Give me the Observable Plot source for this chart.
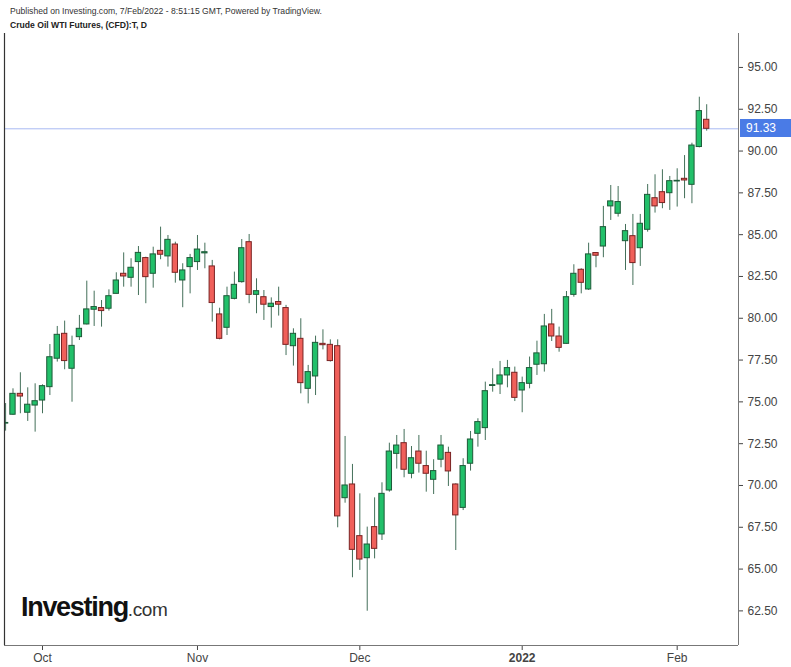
<!DOCTYPE html>
<html><head><meta charset="utf-8">
<script src="https://cdn.jsdelivr.net/npm/d3@7"></script>
<script src="https://cdn.jsdelivr.net/npm/@observablehq/plot@0.6"></script>
<style>
body{margin:0;background:#fff;font-family:"Liberation Sans",Arial,sans-serif;}
#wrap{position:relative;width:791px;height:667px;overflow:hidden;background:#fff}
.pub{position:absolute;left:10px;top:6px;font-size:8.6px;color:#333;white-space:nowrap}
.ttl{position:absolute;left:10px;top:20px;font-size:8.6px;font-weight:bold;color:#222;white-space:nowrap}
#chart{position:absolute;left:0;top:33px}
.logo{position:absolute;left:21px;top:592px;white-space:nowrap;color:#111}
.logo .a{font-size:27px;font-weight:bold;letter-spacing:-1.3px}
.logo .b{font-size:19px;color:#333;letter-spacing:-0.4px}
.price{position:absolute;left:740px;width:51px;height:18px;background:#4a7be6;color:#fff;font-size:12px;line-height:18px;padding-left:6px;box-sizing:border-box}
</style></head>
<body>
<div id="wrap">
  <div class="pub">Published on Investing.com, 7/Feb/2022 - 8:51:15 GMT, Powered by TradingView.</div>
  <div class="ttl">Crude Oil WTI Futures, (CFD):T, D</div>
  <div id="chart"></div>
  <div class="logo"><span class="a">Investing</span><span class="b">.com</span></div>
</div>
<script>
const dates = ["2021-09-24","2021-09-27","2021-09-28","2021-09-29","2021-09-30",
"2021-10-01","2021-10-04","2021-10-05","2021-10-06","2021-10-07","2021-10-08","2021-10-11","2021-10-12","2021-10-13","2021-10-14","2021-10-15","2021-10-18","2021-10-19","2021-10-20","2021-10-21","2021-10-22","2021-10-25","2021-10-26","2021-10-27","2021-10-28","2021-10-29",
"2021-11-01","2021-11-02","2021-11-03","2021-11-04","2021-11-05","2021-11-08","2021-11-09","2021-11-10","2021-11-11","2021-11-12","2021-11-15","2021-11-16","2021-11-17","2021-11-18","2021-11-19","2021-11-22","2021-11-23","2021-11-24","2021-11-25","2021-11-26","2021-11-29","2021-11-30",
"2021-12-01","2021-12-02","2021-12-03","2021-12-06","2021-12-07","2021-12-08","2021-12-09","2021-12-10","2021-12-13","2021-12-14","2021-12-15","2021-12-16","2021-12-17","2021-12-20","2021-12-21","2021-12-22","2021-12-23","2021-12-27","2021-12-28","2021-12-29","2021-12-30","2021-12-31",
"2022-01-03","2022-01-04","2022-01-05","2022-01-06","2022-01-07","2022-01-10","2022-01-11","2022-01-12","2022-01-13","2022-01-14","2022-01-17","2022-01-18","2022-01-19","2022-01-20","2022-01-21","2022-01-24","2022-01-25","2022-01-26","2022-01-27","2022-01-28","2022-01-31",
"2022-02-01","2022-02-02","2022-02-03","2022-02-04","2022-02-07"];

const opens = [73.70,74.23,75.48,74.35,74.78,
75.08,75.88,77.58,79.07,76.98,78.87,79.63,80.51,80.61,80.57,81.46,82.66,82.42,83.36,83.60,82.66,84.03,83.70,84.41,82.26,83.06,
83.36,83.88,83.10,80.23,79.43,81.16,82.16,84.55,81.40,81.26,80.67,80.97,80.61,78.33,78.77,75.78,76.52,78.47,78.41,78.33,69.24,70.06,
66.97,65.65,67.51,67.07,69.70,71.89,72.53,70.70,72.03,71.16,70.34,71.54,71.95,70.06,68.66,71.30,73.09,73.43,75.95,76.04,76.58,76.74,
75.68,76.08,77.22,77.25,79.63,78.91,78.47,81.40,82.90,81.72,83.90,84.29,86.69,86.25,84.61,84.91,84.19,85.29,87.18,87.54,87.48,
88.18,88.34,87.98,90.24,91.87];

const highs = [74.90,75.78,76.74,75.84,76.08,
76.02,78.43,79.51,79.83,78.93,80.17,82.22,81.62,81.06,81.70,82.72,83.91,83.56,84.29,83.65,84.25,85.45,84.95,84.55,83.26,83.82,
84.95,84.49,83.46,80.60,81.86,82.76,84.71,85.01,82.36,81.66,81.22,81.86,80.77,79.37,79.97,77.18,78.93,79.31,78.71,78.71,72.93,71.26,
69.50,67.51,69.26,70.16,72.53,72.99,73.35,72.33,72.99,72.05,71.54,72.99,72.29,70.10,71.60,73.23,73.99,76.18,76.98,77.42,77.48,77.08,
76.48,77.68,78.63,80.23,80.53,79.47,81.60,83.20,82.96,84.49,83.92,86.69,87.94,87.88,85.61,86.21,86.21,88.00,88.58,88.88,88.48,
88.94,89.73,90.47,93.22,92.77];

const lows = [73.25,74.20,74.29,73.83,73.19,
74.29,75.38,77.38,76.92,74.98,78.67,79.60,79.51,79.47,80.43,81.46,81.86,81.86,81.36,80.87,81.80,83.50,83.06,82.10,80.63,81.46,
82.86,82.96,79.77,78.71,78.97,81.10,82.10,80.87,80.27,79.87,79.41,80.13,77.77,77.14,75.48,74.88,75.38,78.11,77.38,67.47,68.94,64.48,
64.92,62.48,65.61,66.71,69.60,70.98,70.46,70.40,70.74,69.60,69.46,71.06,69.94,66.11,68.50,70.86,72.29,72.69,75.58,75.44,75.84,75.02,
74.35,75.78,76.58,76.78,78.61,77.97,78.45,81.26,81.46,81.66,83.02,83.62,85.85,86.05,82.86,81.96,83.10,85.15,86.29,86.55,86.45,
86.65,87.15,86.85,90.19,91.19];

const closes = [73.74,75.48,75.32,74.83,75.04,
75.94,77.67,79.01,77.44,78.35,79.37,80.53,80.67,80.43,81.32,82.26,82.50,83.02,83.91,82.46,83.82,83.80,84.69,82.72,82.86,83.60,
84.11,83.95,80.91,78.77,81.32,82.00,84.19,81.40,81.62,80.81,80.87,80.81,78.41,79.07,76.12,76.78,78.53,78.39,77.44,68.15,70.00,66.15,
65.57,66.47,66.21,69.50,72.03,72.39,70.94,71.63,71.30,70.70,70.86,72.39,70.84,68.21,71.16,72.75,73.79,75.64,76.00,76.58,77.02,75.24,
76.12,77.02,77.90,79.51,78.91,78.23,81.26,82.66,82.12,83.82,83.74,85.45,86.99,86.95,85.21,83.30,85.65,87.38,86.69,86.89,88.20,
88.22,88.24,90.33,92.39,91.33];

const xTickDates = ["2021-10-01","2021-11-01","2021-12-01","2022-01-03","2022-02-01"];
const xTickLabels = ["Oct","Nov","Dec","2022","Feb"];
const yTicks = [62.5,65,67.5,70,72.5,75,77.5,80,82.5,85,87.5,90,92.5,95];
const xDomain = [-0.15, 99.31];
const yDomain = [60.43, 97.03];

const UP = "#22c06a", UP_EDGE = "#1d5a38", DN = "#f0605a", DN_EDGE = "#7a2222", WICK = "#44705a";

const data = dates.map((d, i) => ({i, date: d, open: opens[i], high: highs[i], low: lows[i], close: closes[i]}));
const lastClose = closes[closes.length - 1];
const tickIdx = xTickDates.map(d => dates.indexOf(d));

const chart = Plot.plot({
  width: 791, height: 634,
  marginTop: 0, marginRight: 53, marginBottom: 22, marginLeft: 4,
  style: {fontFamily: "'Liberation Sans', Arial, sans-serif", fontSize: "12px", color: "#444", background: "#fff"},
  x: {type: "linear", domain: xDomain},
  y: {domain: yDomain},
  color: {type: "identity"},
  marks: [
    Plot.ruleY([lastClose], {stroke: "#a9baf3", strokeWidth: 1}),
    Plot.ruleX(data, {x: "i", y1: "low", y2: "high", stroke: WICK, strokeWidth: 1, clip: true}),
    Plot.rect(data, {
      x1: d => d.i - 0.36, x2: d => d.i + 0.36, y1: "open", y2: "close",
      fill: d => d.close >= d.open ? UP : DN,
      stroke: d => d.close >= d.open ? UP_EDGE : DN_EDGE,
      strokeWidth: 1, clip: true
    }),
    Plot.axisY({anchor: "right", ticks: yTicks, tickFormat: d3.format(".2f"), tickSize: 4, tickPadding: 5, label: null}),
    Plot.axisX({ticks: tickIdx, tickFormat: d => xTickLabels[tickIdx.indexOf(d)], tickSize: 5, tickPadding: 3, label: null}),
    Plot.ruleX([xDomain[0]], {stroke: "#333", strokeWidth: 1.2}),
    Plot.ruleX([xDomain[1]], {stroke: "#777"}),
    Plot.ruleY([yDomain[0]], {stroke: "#777"})
  ]
});
document.getElementById("chart").appendChild(chart);
chart.querySelectorAll("text").forEach(t => { if (t.textContent === "2022") t.setAttribute("font-weight", "bold"); });

const yS = chart.scale("y");
const box = document.createElement("div");
box.className = "price";
box.textContent = d3.format(".2f")(lastClose);
box.style.top = (33 + yS.apply(lastClose) - 9) + "px";
document.getElementById("wrap").appendChild(box);
</script>
</body></html>
